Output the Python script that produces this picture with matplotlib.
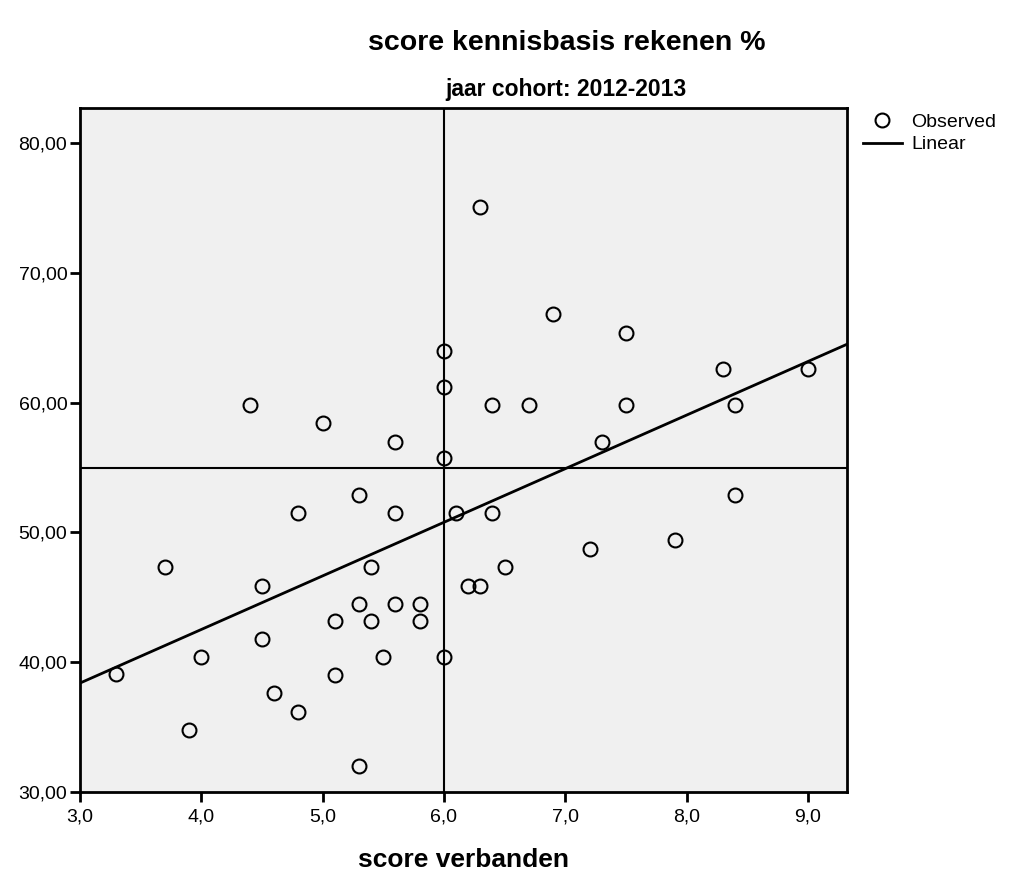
import numpy as np
import matplotlib
matplotlib.use("Agg")
import matplotlib.pyplot as plt
from matplotlib.ticker import FuncFormatter

plt.rcParams['font.family'] = ['Liberation Sans', 'DejaVu Sans']

# score verbanden (x) and score kennisbasis rekenen % (y)
verbanden = [3.3, 3.7, 3.9, 4.0, 4.4, 4.5, 4.5, 4.6, 4.8, 4.8,
             5.0, 5.1, 5.1, 5.3, 5.3, 5.3, 5.4, 5.4, 5.5, 5.6,
             5.6, 5.6, 5.8, 5.8, 6.0, 6.0, 6.0, 6.0, 6.1, 6.2,
             6.3, 6.3, 6.4, 6.4, 6.5, 6.7, 6.9, 7.2, 7.3, 7.5,
             7.5, 7.9, 8.3, 8.4, 8.4, 9.0]
rekenen = [39.1, 47.3, 34.8, 40.4, 59.8, 45.9, 41.8, 37.6, 51.5, 36.2,
           58.4, 43.2, 39.0, 52.9, 44.5, 32.0, 47.3, 43.2, 40.4, 57.0,
           51.5, 44.5, 44.5, 43.2, 64.0, 61.2, 55.7, 40.4, 51.5, 45.9,
           75.1, 45.9, 59.8, 51.5, 47.3, 59.8, 66.8, 48.7, 57.0, 65.4,
           59.8, 49.4, 62.6, 59.8, 52.9, 62.6]

# linear fit as drawn in the chart
fit_intercept = 26.0
fit_slope = 4.13

ref_x = 6.0
ref_y = 55.0
x_lim = (3.0, 9.32)
y_lim = (30.0, 82.7)

x = np.array(verbanden)
y = np.array(rekenen)

fig = plt.figure(figsize=(10.24, 8.82), dpi=100)
ax = fig.add_axes([0.078, 0.102, 0.749, 0.7756])
ax.set_facecolor('#f0f0f0')

ax.axvline(ref_x, color='black', lw=1.5, zorder=1)
ax.axhline(ref_y, color='black', lw=1.5, zorder=1)

xx = np.array(x_lim)
ax.plot(xx, fit_intercept + fit_slope * xx, color='black', lw=2, label='Linear', zorder=2)
ax.plot(x, y, 'o', ms=10, mfc='none', mec='black', mew=1.5,
        label='Observed', zorder=3, linestyle='none')

ax.set_xlim(*x_lim)
ax.set_ylim(*y_lim)
ax.set_xticks(np.arange(3, 10, 1))
ax.set_yticks(np.arange(30, 90, 10))
ax.xaxis.set_major_formatter(FuncFormatter(lambda v, p: f"{v:.1f}".replace('.', ',')))
ax.yaxis.set_major_formatter(FuncFormatter(lambda v, p: f"{v:.2f}".replace('.', ',')))
ax.tick_params(direction='out', length=7, width=2, labelsize=14, pad=2)
ax.tick_params(axis='x', pad=5)
for s in ax.spines.values():
    s.set_linewidth(2)

ax.set_xlabel('score verbanden', fontsize=19, fontweight='bold', labelpad=16)
fig.text(0.553, 0.951, 'score kennisbasis rekenen %', fontsize=20.5,
         fontweight='bold', ha='center', va='center')
fig.text(0.553, 0.899, 'jaar cohort: 2012-2013', fontsize=16.5,
         fontweight='bold', ha='center', va='center')

h, l = ax.get_legend_handles_labels()
ax.legend(h[::-1], l[::-1], loc='upper left', bbox_to_anchor=(1.003, 1.012),
          frameon=False, fontsize=14, handlelength=2.0, handletextpad=0.5,
          borderaxespad=0.3, labelspacing=0.25)

fig.savefig('out.png', dpi=100)
